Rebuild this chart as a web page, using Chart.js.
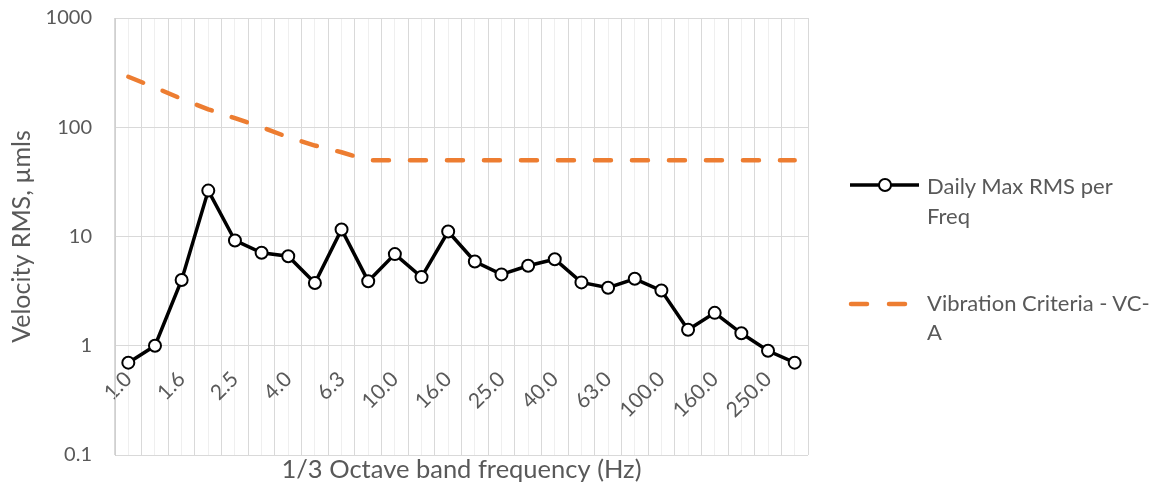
<!DOCTYPE html>
<html>
<head>
<meta charset="utf-8">
<script src="https://cdn.jsdelivr.net/npm/chart.js@4.4.1/dist/chart.umd.min.js"></script>
<style>
  html, body { margin: 0; padding: 0; background: #ffffff; }
  #wrap { position: relative; width: 1151px; height: 492px; overflow: hidden; }
  #chart { position: absolute; left: 0; top: 0; }
  .lt { position: absolute; font-family: Lato, "Open Sans", sans-serif; font-size: 22px; color: #595959; white-space: nowrap; }
  .mk { position: absolute; }
</style>
</head>
<body>
<div id="wrap">
  <canvas id="chart" width="1151" height="492"></canvas>
  <svg class="mk" style="left:845px; top:175px" width="80" height="20">
    <line x1="5" y1="10" x2="74" y2="10" stroke="#000000" stroke-width="3.5"/>
    <circle cx="40" cy="10" r="6" fill="#ffffff" stroke="#000000" stroke-width="2"/>
  </svg>
  <div class="lt" style="left:927px; top:171px; line-height:30px;">Daily Max RMS per<br>Freq</div>
  <svg class="mk" style="left:845px; top:294px" width="70" height="20">
    <line x1="6" y1="10" x2="22" y2="10" stroke="#ED7D31" stroke-width="4.5" stroke-linecap="round"/>
    <line x1="44" y1="10" x2="60" y2="10" stroke="#ED7D31" stroke-width="4.5" stroke-linecap="round"/>
  </svg>
  <div class="lt" style="left:927px; top:288px; line-height:29px;">Vibration Criteria - VC-<br>A</div>
</div>
<script>
// 1/3 octave band centre frequencies (category labels)
const freqLabels = ['1.0','1.25','1.6','2.0','2.5','3.15','4.0','5.0','6.3','8.0','10.0','12.5','16.0','20.0','25.0','31.5','40.0','50.0','63.0','80.0','100.0','125.0','160.0','200.0','250.0','315.0'];
// Daily Max RMS per Freq (µm/s)
const dailyMaxRms = [0.7, 1.0, 4.0, 26.3, 9.2, 7.1, 6.6, 3.75, 11.6, 3.9, 6.9, 4.25, 11.1, 5.9, 4.5, 5.4, 6.2, 3.8, 3.4, 4.1, 3.2, 1.4, 2.0, 1.3, 0.9, 0.7];
// Vibration Criteria - VC-A (µm/s)
const vcA = [290, 231, 182, 146, 121, 100, 81, 68, 59, 50, 50, 50, 50, 50, 50, 50, 50, 50, 50, 50, 50, 50, 50, 50, 50, 50];
// y tick values
const yTickValues = [0.1, 1, 10, 100, 1000];
// x tick labels shown (every other band)
const xTickLabels = freqLabels.map((l, i) => (i % 2 === 0 ? l : ''));

const TXT = '#595959';
const FONT = 'Lato';

new Chart(document.getElementById('chart'), {
  type: 'line',
  data: {
    labels: freqLabels,
    datasets: [
      {
        label: 'Daily Max RMS per Freq',
        data: dailyMaxRms,
        xAxisID: 'x',
        yAxisID: 'y',
        borderColor: '#000000',
        borderWidth: 3.5,
        pointRadius: 6,
        pointBorderWidth: 2,
        pointBackgroundColor: '#ffffff',
        pointBorderColor: '#000000',
        tension: 0,
        order: 1
      },
      {
        label: 'Vibration Criteria - VC-A',
        data: vcA,
        xAxisID: 'x',
        yAxisID: 'y',
        borderColor: '#ED7D31',
        borderWidth: 4.5,
        borderDash: [16, 21],
        borderCapStyle: 'round',
        pointRadius: 0,
        tension: 0,
        order: 2
      }
    ]
  },
  options: {
    responsive: false,
    devicePixelRatio: 1,
    animation: false,
    layout: { padding: { left: 0, right: 343, top: 18, bottom: 0 } },
    plugins: { legend: { display: false }, tooltip: { enabled: false } },
    scales: {
      x: {
        type: 'category',
        position: { y: 1 },
        offset: true,
        grid: { offset: true, color: '#d9d9d9', lineWidth: 1, drawTicks: false },
        border: { display: false },
        ticks: {
          autoSkip: false,
          maxRotation: 45,
          minRotation: 45,
          padding: 21,
          color: TXT,
          font: { family: FONT, size: 21 },
          callback: (v, i) => xTickLabels[i]
        },
        afterFit: s => { s.height = 0; s.paddingLeft = 0; s.paddingRight = 0; }
      },
      x2: {
        type: 'category',
        position: 'bottom',
        labels: freqLabels,
        offset: true,
        grid: { offset: false, color: '#efefef', lineWidth: 1, drawTicks: false },
        border: { display: false },
        ticks: { display: false },
        title: {
          display: true,
          text: '1/3 Octave band frequency (Hz)',
          color: TXT,
          font: { family: FONT, size: 25.5 },
          padding: { top: 0, bottom: 7 }
        },
        afterFit: s => { s.height = 37; }
      },
      y: {
        type: 'logarithmic',
        position: 'left',
        min: 0.1,
        max: 1000,
        afterBuildTicks: s => { s.ticks = yTickValues.map(v => ({ value: v })); },
        grid: { color: '#d9d9d9', lineWidth: 1, drawTicks: false },
        border: { color: '#d0d0d0' },
        ticks: {
          padding: 23,
          color: TXT,
          font: { family: FONT, size: 20 },
          callback: v => String(v)
        },
        title: {
          display: true,
          text: 'Velocity RMS, µmls',
          color: TXT,
          font: { family: FONT, size: 25 },
          padding: { top: 7, bottom: 0 }
        },
        afterFit: s => { s.width = 115; s.paddingTop = 0; s.paddingBottom = 0; }
      }
    }
  }
});
</script>
</body>
</html>
